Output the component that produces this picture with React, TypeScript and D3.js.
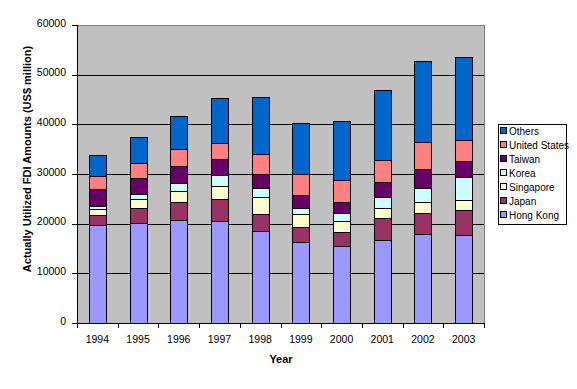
import React from "react";
import * as d3 from "d3";

const years = ["1994", "1995", "1996", "1997", "1998", "1999", "2000", "2001", "2002", "2003"];
const hongKong = [19665, 20060, 20677, 20632, 18508, 16363, 15500, 16717, 17861, 17700];
const japan = [2075, 3108, 3679, 4326, 3400, 2973, 2916, 4348, 4190, 5054];
const singapore = [1180, 1851, 2244, 2606, 3404, 2642, 2172, 2144, 2337, 2058];
const korea = [723, 1043, 1504, 2142, 1803, 1275, 1490, 2152, 2721, 4489];
const taiwan = [3391, 3162, 3475, 3289, 2915, 2599, 2296, 2980, 3971, 3377];
const unitedStates = [2491, 3083, 3443, 3239, 3898, 4216, 4384, 4433, 5424, 4199];
const others = [4400, 5214, 6704, 9023, 11535, 10251, 11957, 14104, 16239, 16628];
const yTicks = [0, 10000, 20000, 30000, 40000, 50000, 60000];

const seriesNames = ["Hong Kong", "Japan", "Singapore", "Korea", "Taiwan", "United States", "Others"];
const seriesValues = [hongKong, japan, singapore, korea, taiwan, unitedStates, others];
const seriesColors = ["#9999FF", "#993366", "#FFFFCC", "#CCFFFF", "#660066", "#FF8080", "#0066CC"];

const W = 577;
const H = 389;
const left = 77;
const right = 484;
const top = 25;
const bottom = 323;
const font = "Arial, 'Liberation Sans', sans-serif";

export default function App() {
  const rows = years.map((y, i) => {
    const r: Record<string, any> = { year: y };
    seriesNames.forEach((n, k) => (r[n] = seriesValues[k][i]));
    return r;
  });
  const stacked = d3.stack<any>().keys(seriesNames)(rows);
  const x = d3.scaleBand().domain(years).range([left, right]).paddingInner(0.582).paddingOuter(0.291);
  const y = d3.scaleLinear().domain([0, 60000]).range([bottom, top]);
  const step = x.step();
  const bw = x.bandwidth();
  const boundaries = years.map((yr) => (x(yr) as number) - (step - bw) / 2).concat([right]);

  const legendItems = seriesNames.map((n, k) => ({ n, c: seriesColors[k] })).reverse();

  return (
    <svg width={W} height={H} style={{ position: "absolute", left: 0, top: 0, background: "#fff" }} shapeRendering="crispEdges">
      <rect x={left} y={top} width={right - left} height={bottom - top} fill="#C0C0C0" />
      {yTicks.slice(1, -1).map((t) => (
        <line key={t} x1={left} x2={right} y1={Math.round(y(t)) + 0.5} y2={Math.round(y(t)) + 0.5} stroke="#000" />
      ))}
      <line x1={left} x2={right} y1={top + 0.5} y2={top + 0.5} stroke="#808080" />
      <line x1={right + 0.5} x2={right + 0.5} y1={top} y2={bottom} stroke="#808080" />
      {stacked.map((s, k) => (
        <g key={s.key}>
          {s.map((d, i) => (
            <rect
              key={i}
              x={Math.round(x(years[i]) as number) + 0.5}
              y={Math.round(y(d[1])) + 0.5}
              width={Math.round(bw)}
              height={Math.round(y(d[0])) - Math.round(y(d[1]))}
              fill={seriesColors[k]}
              stroke="#000"
              strokeWidth={1}
            />
          ))}
        </g>
      ))}
      <line x1={left + 0.5} x2={left + 0.5} y1={top} y2={bottom + 1} stroke="#000" />
      <line x1={left} x2={right + 1} y1={bottom + 0.5} y2={bottom + 0.5} stroke="#000" />
      {yTicks.map((t) => (
        <g key={t}>
          <line x1={left - 5} x2={left} y1={Math.round(y(t)) + 0.5} y2={Math.round(y(t)) + 0.5} stroke="#000" />
          <text x={left - 11} y={y(t) + 1.5} textAnchor="end" fontFamily={font} fontSize={10.5} fill="#000">
            {t}
          </text>
        </g>
      ))}
      {boundaries.map((b, i) => (
        <line key={i} x1={Math.round(b) + 0.5} x2={Math.round(b) + 0.5} y1={bottom} y2={bottom + 5} stroke="#000" />
      ))}
      {years.map((yr) => (
        <text key={yr} x={(x(yr) as number) + bw / 2} y={343} textAnchor="middle" fontFamily={font} fontSize={10.5} fill="#000">
          {yr}
        </text>
      ))}
      <text x={281} y={363} textAnchor="middle" fontFamily={font} fontSize={11} fontWeight="bold" fill="#000">
        Year
      </text>
      <text
        transform={`translate(31,159) rotate(-90)`}
        textAnchor="middle"
        fontFamily={font}
        fontSize={11}
        fontWeight="bold"
        fill="#000"
      >
        Actually Utilized FDI Amounts (US$ million)
      </text>
      <rect x={498.5} y={124.5} width={68} height={100} fill="#fff" stroke="#000" />
      {legendItems.map((it, i) => (
        <g key={it.n}>
          <rect x={500.5} y={127.5 + i * 14} width={6} height={6} fill={it.c} stroke="#000" />
          <text x={509} y={135 + i * 14} fontFamily={font} fontSize={10} fill="#000">
            {it.n}
          </text>
        </g>
      ))}
    </svg>
  );
}
